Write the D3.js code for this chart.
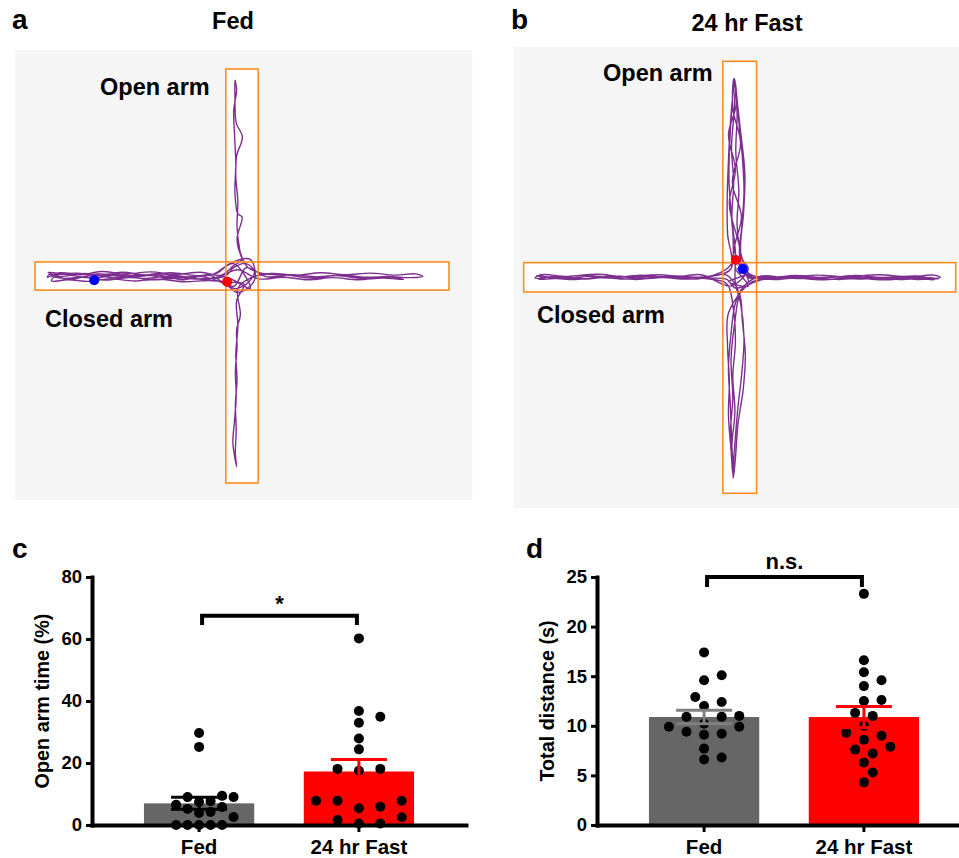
<!DOCTYPE html>
<html>
<head>
<meta charset="utf-8">
<script src="https://cdn.jsdelivr.net/npm/d3@7/dist/d3.min.js"></script>
<style>
  body { margin: 0; background: #fff; }
  svg text { font-family: 'Liberation Sans', Arial, Helvetica, sans-serif; font-weight: bold; fill: #000; }
</style>
</head>
<body>
<svg id="svg" width="959" height="858"></svg>
<script>
const groups = ['Fed', '24 hr Fast'];

// c: open arm time (%)
const openArmFed = [29.7, 25.2, 9.4, 9.0, 9.0, 7.7, 7.4, 6.5, 5.8, 5.2, 4.2, 3.9, 2.6, 0, 0, 0, 0, 0];
const openArmFast = [60.2, 36.8, 34.9, 33.0, 27.9, 24.4, 18.1, 17.5, 18.1, 7.8, 7.8, 7.8, 5.9, 5.4, 2.5, 1.6, 0.5, 0.5];
const openArmTicks = [0, 20, 40, 60, 80];

// d: total distance
const distFed = [17.4, 15.1, 14.6, 12.9, 12.4, 12.0, 11.0, 10.9, 10.9, 10.2, 9.9, 9.9, 9.4, 9.2, 9.1, 7.7, 6.8, 6.6];
const distFast = [23.3, 16.6, 15.4, 14.6, 14.0, 12.6, 12.5, 11.3, 11.0, 10.0, 9.3, 9.0, 8.6, 7.9, 7.6, 7.2, 6.3, 5.3, 4.3];
const distTicks = [0, 5, 10, 15, 20, 25];

// a, b: tracked path in maze units (arm ends at +/-50, y down)
const trackFed = [
  [-3.6, 1.4], [-2, 3], [1, 2], [3, -1], [1, -3], [-2, -2], [-4, 0],
  [-9, 0.8], [-15, 0.3], [-21, 0.9], [-27, 0.4], [-33, 1.0], [-38, 0.2], [-43, 0.6], [-46.5, -0.4], [-47, 0.3],
  [-44, -0.8], [-39, -0.3], [-34, -1.1], [-28, -0.5], [-22, -1.0], [-16, -0.4], [-10, -0.9], [-5, -0.2], [-2, -2.5], [0, -4],
  [-0.5, -6], [-1.2, -12], [-1.0, -18], [-1.5, -24], [-1.3, -29], [0.1, -33.6], [-1.4, -37], [-1.7, -43], [-1.7, -47.3],
  [-1.3, -45], [-2.0, -40], [-1.8, -34], [-1.5, -27], [-1.7, -20], [-1.0, -15], [0, -14.3], [-1.2, -9], [-0.3, -5], [1.5, -2],
  [5, -0.6], [11, -0.2], [17, 0.5], [23, -0.1], [29, 0.6], [35, 0.1], [40.6, 0.4], [43.7, 0.1], [42, -0.5], [37, -0.2],
  [31, -0.7], [25, -0.3], [19, -0.8], [13, -0.2], [7, -0.6], [2, 0.5],
  [-1, 3], [-0.4, 9.4], [-1.3, 13], [-1.2, 17], [-1.6, 23], [-1.4, 29], [-1.8, 35], [-2.2, 40.3], [-1.3, 46],
  [-1.6, 43], [-1.4, 37], [-1.6, 31], [-1.2, 25], [-1.5, 19], [-1, 12], [-1.3, 6], [0.5, 2],
  [-3, 1.5], [-8, 1.1], [-14, 1.4], [-20, 0.8], [-26, 1.2], [-32, 0.7], [-37, 1.3], [-42, 0.9], [-46, 1.2],
  [-45, -0.1], [-40, -0.7], [-35, -0.1], [-29, -0.9], [-23, -0.2], [-17, -0.8], [-11, -0.1], [-6, -0.7],
  [-3, -3], [2, -4], [3, 1], [-1, 4], [-4, 2],
  [-10, 0.1], [-17, 0.6], [-24, -0.3], [-31, 0.4], [-38, -0.6], [-44, 0.1], [-46.8, -0.9], [-42, -0.3],
  [-36, 0.5], [-30, -0.2], [-24, 0.6], [-18, 0.1], [-12, 0.7], [-6, 0.3], [-1, -1.5],
  [4, 0.7], [10, 0.3], [16, 0.9], [22, 0.4], [28, 0.9], [34, 0.5], [39, 0.8], [36, 0.2], [30, 0.3],
  [24, -0.2], [18, 0.2], [12, -0.3], [6, 0.2], [1, -2], [-2, 2.5],
  [-8, -0.2], [-14, 0.5], [-20, -0.6], [-26, 0.3], [-32, -0.4], [-38, 0.4], [-43, -0.5], [-46, 0.0],
  [-41, 0.7], [-35, -0.5], [-28, 0.2], [-21, -0.3], [-14, 0.9], [-8, -0.4], [-3, 0.6], [2, 3], [-2, -3],
  [-7, -0.4], [-13, 0.2], [-19, -0.5], [-25, 0.1], [-31, -0.6], [-35.7, 1.0]
];
const trackFast = [
  [-0.9, -4.0], [0.5, -2], [2, 1], [-1, 2.5], [-3, 0.5],
  [-8, 0.2], [-15, -0.3], [-22, 0.3], [-29, -0.2], [-36, 0.4], [-42, -0.1], [-47.4, 0.2], [-46, -0.6],
  [-40, -0.2], [-33, -0.7], [-26, -0.1], [-19, -0.6], [-12, 0], [-6, -0.5], [-2, -3],
  [-1.5, -8], [-2, -15], [-2.5, -23], [-2.3, -31], [-1.9, -38], [-1.2, -46], [-0.8, -43], [-0.2, -36],
  [0.6, -28], [1, -20], [0.5, -12], [0, -5],
  [2, 0], [7, -0.2], [14, 0.3], [21, -0.1], [28, 0.4], [35, 0], [41, 0.5], [46.4, 0], [45, -0.5],
  [39, -0.1], [32, -0.6], [25, -0.1], [18, -0.5], [11, 0.1], [5, -0.3], [1, 2],
  [-1, 6], [-2, 13], [-2.6, 21], [-2.2, 29], [-1.9, 37], [-1.5, 46.5], [-1, 42], [-0.4, 34], [0.8, 26],
  [1.3, 18], [0.6, 10], [0, 4],
  [-3, -0.5], [-10, 0.4], [-17, -0.1], [-24, 0.5], [-31, 0], [-38, 0.5], [-44, 0.1], [-47, -0.4],
  [-41, 0.3], [-34, -0.3], [-27, 0.4], [-20, -0.2], [-13, 0.4], [-7, -0.1], [-2, -2],
  [-2.8, -10], [-2.9, -18], [-2.6, -27], [-2.2, -35], [-1.6, -42], [-1.1, -45.5], [-0.5, -40], [0.3, -33],
  [1.2, -24], [0.9, -15], [0.2, -7], [1, -1],
  [6, 0.4], [13, -0.1], [20, 0.5], [27, 0], [34, 0.4], [40, -0.1], [46, 0.4], [44, 0.1], [37, 0.5],
  [30, 0], [23, 0.5], [16, 0], [9, 0.5], [3, 1],
  [-2.5, 8], [-2.8, 16], [-2.4, 24], [-2.6, 32], [-2, 40], [-1.6, 45.5], [-1.3, 41], [-0.5, 31], [0.5, 22],
  [1, 14], [0.2, 6], [-1, 1.5],
  [-1, -6], [-1.8, -14], [-1.4, -22], [-1.9, -30], [-1.3, -38], [-1, -44], [-0.6, -38], [-0.9, -29],
  [-0.2, -20], [-0.6, -12], [0.7, -4], [2, -2], [-2, 2],
  [-9, -0.6], [-16, 0.1], [-23, -0.5], [-30, 0.2], [-37, -0.4], [-43, 0.3], [-46.5, 0.5], [-43, -0.2],
  [-36, 0.3], [-29, -0.3], [-22, 0.3], [-15, -0.2], [-8, 0.3], [-3, 1.5],
  [-1.5, 7], [-1, 15], [-1.6, 23], [-1.1, 31], [-1.8, 39], [-1.4, 44], [-2.2, 37], [-1.6, 28], [-2, 19],
  [-1.2, 11], [0.5, 3],
  [5, 0.6], [12, 0.1], [19, 0.6], [26, 0.1], [33, 0.6], [40, 0.2], [45, 0.6], [41, -0.3], [34, 0.1],
  [27, -0.4], [20, 0.1], [13, -0.4], [6, 0.1], [2, -1],
  [-0.5, -9], [-2.4, -17], [-1, -25], [-2.6, -33], [-0.8, -40], [-1.4, -46], [-1.6, -39], [0.2, -31],
  [-1.7, -22], [0.4, -14], [-1.2, -6],
  [1.5, -1], [-2.5, 1], [2, 2], [-1, -2], [3, 0], [0.7, -1.9]
];
// blue, red markers
const markersFed = [[-35.7, 1.0], [-3.6, 1.4]];
const markersFast = [[0.7, -1.9], [-0.9, -4.0]];

const svg = d3.select('#svg');
const markerColors = ['#0000ff', '#ff0000'];
const barColors = ['#666666', '#ff0000'];
const armLen = 50;
const armHalfH = 3.4; // closed arm half-height
const armHalfV = 3.9; // open arm half-width

function drawMaze(p) {
  const x = d3.scaleLinear().domain([-armLen, armLen]).range([p.cx - armLen * p.k, p.cx + armLen * p.k]);
  const y = d3.scaleLinear().domain([-armLen, armLen]).range([p.cy - armLen * p.k, p.cy + armLen * p.k]);
  const g = svg.append('g');

  g.append('rect')
    .attr('x', x(p.arena[0]))
    .attr('y', y(p.arena[2]))
    .attr('width', x(p.arena[1]) - x(p.arena[0]))
    .attr('height', y(p.arena[3]) - y(p.arena[2]))
    .attr('fill', '#f5f5f5');

  const arms = [
    [-armLen, armLen, -armHalfH, armHalfH],
    [-armHalfV, armHalfV, -armLen, armLen],
  ];
  const armRect = (sel) =>
    sel
      .attr('x', (d) => x(d[0]))
      .attr('y', (d) => y(d[2]))
      .attr('width', (d) => x(d[1]) - x(d[0]))
      .attr('height', (d) => y(d[3]) - y(d[2]));

  g.append('g').selectAll('rect').data(arms).join('rect').call(armRect).attr('fill', '#fff');

  const line = d3.line().x((d) => x(d[0])).y((d) => y(d[1])).curve(d3.curveCatmullRom.alpha(0.5));
  g.append('path')
    .datum(p.track)
    .attr('d', line)
    .attr('fill', 'none')
    .attr('stroke', '#7d2f90')
    .attr('stroke-width', 1.4)
    .attr('stroke-linejoin', 'round');

  g.append('g')
    .selectAll('rect')
    .data(arms)
    .join('rect')
    .call(armRect)
    .attr('fill', 'none')
    .attr('stroke', '#ff8c1e')
    .attr('stroke-width', 1.6);

  g.append('g')
    .selectAll('circle')
    .data(p.markers)
    .join('circle')
    .attr('cx', (d) => x(d[0]))
    .attr('cy', (d) => y(d[1]))
    .attr('r', 5)
    .attr('fill', (d, i) => markerColors[i]);

  svg.append('text').attr('x', p.letter[0]).attr('y', 29).style('font-size', '28px').text(p.letter[1]);
  svg.append('text').attr('x', p.title[0]).attr('y', p.title[1]).attr('text-anchor', 'middle').style('font-size', '23.5px').text(p.title[2]);
  svg.append('text').attr('x', p.open[0]).attr('y', p.open[1]).style('font-size', '23.5px').text('Open arm');
  svg.append('text').attr('x', p.closed[0]).attr('y', p.closed[1]).style('font-size', '23.5px').text('Closed arm');
}

// prism-like scatter: dots near the same height sit `spread` steps apart
function swarm(values, y, step, spread, diam) {
  const placed = [];
  const offs = new Array(values.length);
  const order = values.map((v, i) => i).sort((a, b) => values[a] - values[b]);
  const hx = spread * step;
  order.forEach((i) => {
    const py = y(values[i]);
    for (let k = 0; k < 40; k++) {
      const cands = k === 0 ? [0] : [k * step, -k * step];
      const c = cands.find((cx) => placed.every((q) => ((q[0] - cx) / hx) ** 2 + ((q[1] - py) / diam) ** 2 >= 0.999));
      if (c !== undefined) {
        offs[i] = c;
        placed.push([c, py]);
        break;
      }
    }
  });
  return offs;
}

function drawBars(p) {
  const yTop = 577, yBottom = 825;
  const x = d3.scaleBand().domain(groups).range([p.x0, p.x0 + 374]).paddingInner(0.31).paddingOuter(0.325);
  const y = d3.scaleLinear().domain([0, p.max]).range([yBottom, yTop]);
  const g = svg.append('g');
  const cx = (i) => x(groups[i]) + x.bandwidth() / 2;

  const stats = p.values.map((v) => ({ m: d3.mean(v), se: d3.deviation(v) / Math.sqrt(v.length) }));

  g.append('g')
    .selectAll('rect')
    .data(stats)
    .join('rect')
    .attr('x', (d, i) => x(groups[i]))
    .attr('y', (d) => y(d.m))
    .attr('width', x.bandwidth())
    .attr('height', (d) => yBottom - y(d.m))
    .attr('fill', (d, i) => barColors[i]);

  const yAxis = d3.axisLeft(y).tickValues(p.ticks).tickSize(6).tickPadding(4).tickSizeOuter(0);
  const xAxis = d3.axisBottom(x).tickSize(7).tickPadding(7).tickSizeOuter(0);

  const ya = g.append('g').attr('transform', 'translate(' + p.x0 + ',0)').call(yAxis);
  const xa = g.append('g').attr('transform', 'translate(0,' + yBottom + ')').call(xAxis);
  [ya, xa].forEach((a) => {
    a.attr('font-family', null).attr('font-size', null);
    a.select('.domain').attr('stroke', '#000').attr('stroke-width', 4).attr('stroke-linecap', 'square');
    a.selectAll('.tick line').attr('stroke', '#000').attr('stroke-width', 3);
  });
  ya.selectAll('.tick text').style('font-size', '18.5px');
  xa.selectAll('.tick text').style('font-size', '20.5px');

  p.values.forEach((v, i) => {
    const offs = swarm(v, y, p.step[i], p.spread[i], 10);
    g.append('g')
      .selectAll('circle')
      .data(v)
      .join('circle')
      .attr('cx', (d, j) => cx(i) + offs[j])
      .attr('cy', (d) => y(d))
      .attr('r', 5)
      .attr('fill', '#000');
  });

  stats.forEach((s, i) => {
    const eg = g.append('g').attr('stroke', p.errColors[i]).attr('stroke-width', 3);
    const lo = y(s.m - s.se), hi = y(s.m + s.se);
    eg.append('line').attr('x1', cx(i)).attr('x2', cx(i)).attr('y1', lo).attr('y2', hi);
    [lo, hi].forEach((yy) =>
      eg.append('line').attr('x1', cx(i) - 28).attr('x2', cx(i) + 28).attr('y1', yy).attr('y2', yy)
    );
  });

  // significance bracket
  const bx1 = cx(0) + 3, bx2 = cx(1) - 2;
  g.append('path')
    .attr('d', `M${bx1},${y(p.bracket[0] - p.bracket[1])}V${y(p.bracket[0])}H${bx2}V${y(p.bracket[0] - p.bracket[1])}`)
    .attr('fill', 'none')
    .attr('stroke', '#000')
    .attr('stroke-width', 4);
  g.append('text')
    .attr('x', (bx1 + bx2) / 2)
    .attr('y', y(p.bracket[0]) - p.sigGap)
    .attr('text-anchor', 'middle')
    .style('font-size', '22px')
    .text(p.sig);

  svg.append('text')
    .attr('transform', `translate(${p.titleX},${(yTop + yBottom) / 2}) rotate(-90)`)
    .attr('text-anchor', 'middle')
    .attr('dy', '0.35em')
    .style('font-size', '19.8px')
    .text(p.title);
  svg.append('text').attr('x', p.letterX).attr('y', 558).style('font-size', '28px').text(p.letter);
}

drawMaze({
  cx: 242, cy: 276, k: 4.14,
  arena: [-54.8, 55.6, -54.6, 54.1],
  track: trackFed, markers: markersFed,
  letter: [12, 'a'], title: [233, 29, 'Fed'],
  open: [100, 95], closed: [45, 327],
});
drawMaze({
  cx: 739.7, cy: 277.3, k: 4.32,
  arena: [-52.2, 54, -53.3, 53.4],
  track: trackFast, markers: markersFast,
  letter: [511, 'b'], title: [747, 31, '24 hr Fast'],
  open: [603, 81], closed: [537, 323],
});

drawBars({
  x0: 92, max: 80, ticks: openArmTicks, values: [openArmFed, openArmFast],
  step: [11.5, 10.7], spread: [1, 2], errColors: ['#000', '#ff0000'],
  bracket: [67.5, 3], sig: '*', sigGap: 5,
  title: 'Open arm time (%)', titleX: 42, letter: 'c', letterX: 12,
});
drawBars({
  x0: 597, max: 25, ticks: distTicks, values: [distFed, distFast],
  step: [8.8, 8.8], spread: [2, 2], errColors: ['#808080', '#ff0000'],
  bracket: [25, 1], sig: 'n.s.', sigGap: 8,
  title: 'Total distance (s)', titleX: 547, letter: 'd', letterX: 526,
});
</script>
</body>
</html>
